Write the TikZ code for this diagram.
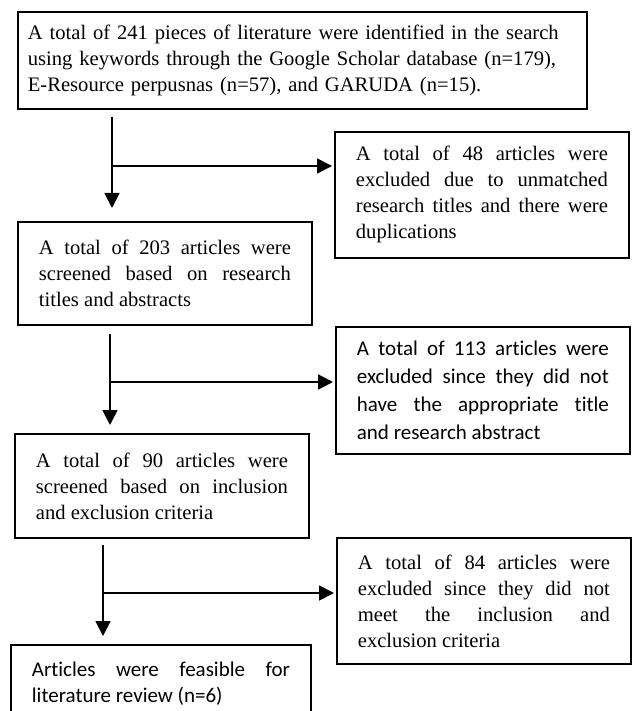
\documentclass[tikz,border=0pt]{standalone}
\usepackage{fontspec}
\setmainfont{Liberation Serif}
\newfontfamily\calibrifont[Ligatures=NoCommon]{Carlito}
\usetikzlibrary{arrows.meta}
\tolerance=10000
\hbadness=10000

\begin{document}
\begin{tikzpicture}[x=1pt,y=-1pt,
    stagebox/.style={draw, line width=1.8pt, anchor=north west, inner xsep=21pt, inner ysep=0pt,
        text width=252pt, align=justify, font=\fontsize{20.6}{26}\selectfont},
    sansbox/.style={stagebox, font=\calibrifont\fontsize{21}{28}\selectfont},
    flow/.style={line width=1.8pt, -{Triangle[length=15pt,width=15pt]}}]
    \useasboundingbox (0,0) rectangle (636,711);
    \clip (0,0) rectangle (636,711);

    % Identification
    \node[stagebox, text width=549pt, inner xsep=10pt, align=left, minimum height=97pt] (found) at (17,11)
        {A total of 241 pieces of literature were identified in the search\\
         using keywords through the Google Scholar database (n=179),\\
         E-Resource perpusnas (n=57), and GARUDA (n=15).};
    \node[stagebox, minimum height=126pt] (drop1) at (334,131)
        {A total of 48 articles were\linebreak excluded due to unmatched\linebreak
         research titles and there were\linebreak duplications};

    % Screening on titles and abstracts
    \node[stagebox, minimum height=103pt] (titles) at (17,221)
        {A total of 203 articles were\linebreak screened based on research\linebreak titles and abstracts};
    \node[sansbox, minimum height=127pt] (drop2) at (335,326)
        {A total of 113 articles were\linebreak excluded since they did not\linebreak
         have the appropriate title\linebreak and research abstract};

    % Eligibility
    \node[stagebox, minimum height=104pt] (criteria) at (14,433)
        {A total of 90 articles were\linebreak screened based on inclusion\linebreak and exclusion criteria};
    \node[stagebox, minimum height=126pt] (drop3) at (336,537)
        {A total of 84 articles were\linebreak excluded since they did not\linebreak
         meet the inclusion and\linebreak exclusion criteria};

    % Included
    \node[sansbox, text width=258pt, font=\calibrifont\fontsize{21}{26}\selectfont, minimum height=78pt] (review) at (10,644)
        {Articles were feasible for\linebreak literature review (n=6)};

    % Flow lines
    \coordinate (j1) at (112,166);
    \coordinate (j2) at (110,382);
    \coordinate (j3) at (103,593);
    \draw[flow, shorten <=7pt, shorten >=13pt] (found.south -| j1) -- (titles.north -| j1);
    \draw[flow, shorten >=2pt] (j1) -- (j1 -| drop1.west);
    \draw[flow, shorten <=8pt, shorten >=8pt] (titles.south -| j2) -- (criteria.north -| j2);
    \draw[flow, shorten >=2pt] (j2) -- (j2 -| drop2.west);
    \draw[flow, shorten <=6pt, shorten >=8pt] (criteria.south -| j3) -- (review.north -| j3);
    \draw[flow, shorten >=2pt] (j3) -- (j3 -| drop3.west);
\end{tikzpicture}
\end{document}
